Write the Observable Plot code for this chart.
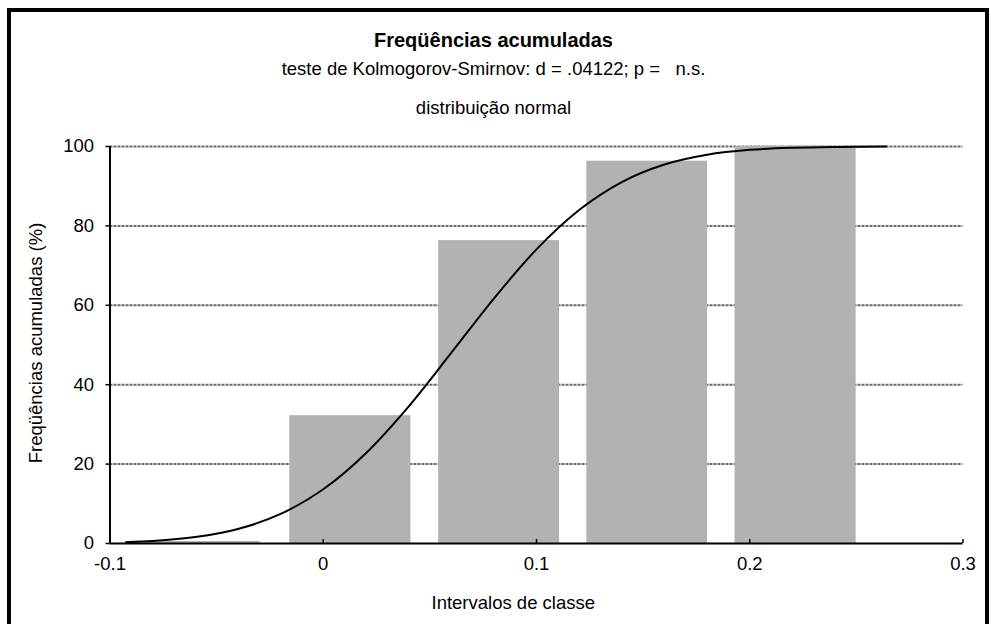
<!DOCTYPE html>
<html>
<head>
<meta charset="utf-8">
<script src="https://cdn.jsdelivr.net/npm/d3@7"></script>
<script src="https://cdn.jsdelivr.net/npm/@observablehq/plot@0.6"></script>
<style>
  html, body { margin: 0; padding: 0; background: #fff; }
  #wrap { position: relative; width: 991px; height: 624px; overflow: hidden; background: #fff;
          font-family: "Liberation Sans", Arial, sans-serif; color: #000; }
  #frame { position: absolute; left: 7px; top: 8px; width: 982px; height: 700px;
           border: 4px solid #000; box-sizing: border-box; }
  .t { position: absolute; left: 0; width: 991px; text-align: center; white-space: pre; }
  #title { font-size: 20px; font-weight: bold; line-height: 20px; top: 30px; left: -2px; }
  #sub1 { font-size: 18.5px; line-height: 18.5px; top: 60.3px; left: -2px; }
  #sub2 { font-size: 18.5px; line-height: 18.5px; top: 98.5px; left: -2px; }
  #xlab { font-size: 18.5px; line-height: 18.5px; top: 594px; left: 0; width: auto; }
  #ylab { position: absolute; font-size: 18.5px; line-height: 18px; width: 400px; height: 18px;
          left: -164.2px; top: 334px; text-align: center; transform: rotate(-90deg); white-space: pre; }
  #plot { position: absolute; left: 0; top: 0; }
</style>
</head>
<body>
<div id="wrap">
  <div id="frame"></div>
  <div id="plot"></div>
  <div class="t" id="title">Freqüências acumuladas</div>
  <div class="t" id="sub1">teste de Kolmogorov-Smirnov: d = .04122; p =   n.s.</div>
  <div class="t" id="sub2">distribuição normal</div>
  <div class="t" id="xlab">Intervalos de classe</div>
  <div id="ylab">Freqüências acumuladas (%)</div>
</div>
<script>
// Class intervals (drawn bar extents) and cumulative frequencies (%)
const classLow  = [-0.0925, -0.0157, 0.0541, 0.1236, 0.1931];
const classHigh = [-0.0297,  0.0411, 0.1108, 0.1802, 0.2499];
const cumFreq   = [0.5, 32.2, 76.3, 96.3, 100];

// Expected normal cumulative curve
const curveX = [-0.0925, -0.08, -0.06, -0.04, -0.02, 0, 0.02, 0.04, 0.06, 0.08, 0.10, 0.12, 0.14, 0.16, 0.18, 0.20, 0.22, 0.24, 0.264];
const curveY = [0.34, 0.64, 1.61, 3.65, 7.44, 13.66, 22.75, 34.5, 48.0, 61.7, 74.1, 84.0, 91.04, 95.47, 97.93, 99.16, 99.69, 99.90, 99.98];

// Tick labels
const xTicks = [-0.1, 0, 0.1, 0.2, 0.3];
const xTickLabels = ["-0.1", "0", "0.1", "0.2", "0.3"];
const yTicks = [0, 20, 40, 60, 80, 100];
const yGrid = [20, 40, 60, 80, 100];

const bars = classLow.map((lo, i) => ({x1: lo, x2: classHigh[i], y: cumFreq[i]}));
const curve = curveX.map((x, i) => ({x, y: curveY[i]}));

const chart = Plot.plot({
  width: 991,
  height: 624,
  marginLeft: 109.5,
  marginRight: 28.5,
  marginTop: 146,
  marginBottom: 81,
  style: {background: "transparent", fontFamily: "'Liberation Sans', Arial, sans-serif", fontSize: "18px", color: "#000"},
  x: {domain: [-0.1, 0.3]},
  y: {domain: [0, 100]},
  marks: [
    Plot.ruleY(yGrid, {stroke: "#6a6a6a", strokeWidth: 2, strokeDasharray: "3,1"}),
    Plot.rectY(bars, {x1: "x1", x2: "x2", y: "y", fill: "#b2b2b2"}),
    Plot.ruleY([0], {stroke: "#000", strokeWidth: 2}),
    Plot.ruleX([-0.1], {stroke: "#000", strokeWidth: 2}),
    Plot.ruleX(xTicks, {y1: 0, y2: 1, stroke: "#000", strokeWidth: 1.5}),
    Plot.line(curve, {x: "x", y: "y", curve: "monotone-x", stroke: "#000", strokeWidth: 2}),
    Plot.axisY({ticks: yTicks, tickSize: 4, tickPadding: 12, tickFormat: d => String(d), label: null, fontSize: 18.5, strokeWidth: 1.5}),
    Plot.axisX({ticks: xTicks, tickSize: 0, tickPadding: 13, tickFormat: (d, i) => xTickLabels[xTicks.indexOf(d)], label: null, fontSize: 18.5})
  ]
});
document.getElementById("plot").appendChild(chart);
// center x-axis title under its reference position
const xl = document.getElementById("xlab");
xl.style.left = (513.5 - xl.offsetWidth / 2) + "px";
</script>
</body>
</html>
